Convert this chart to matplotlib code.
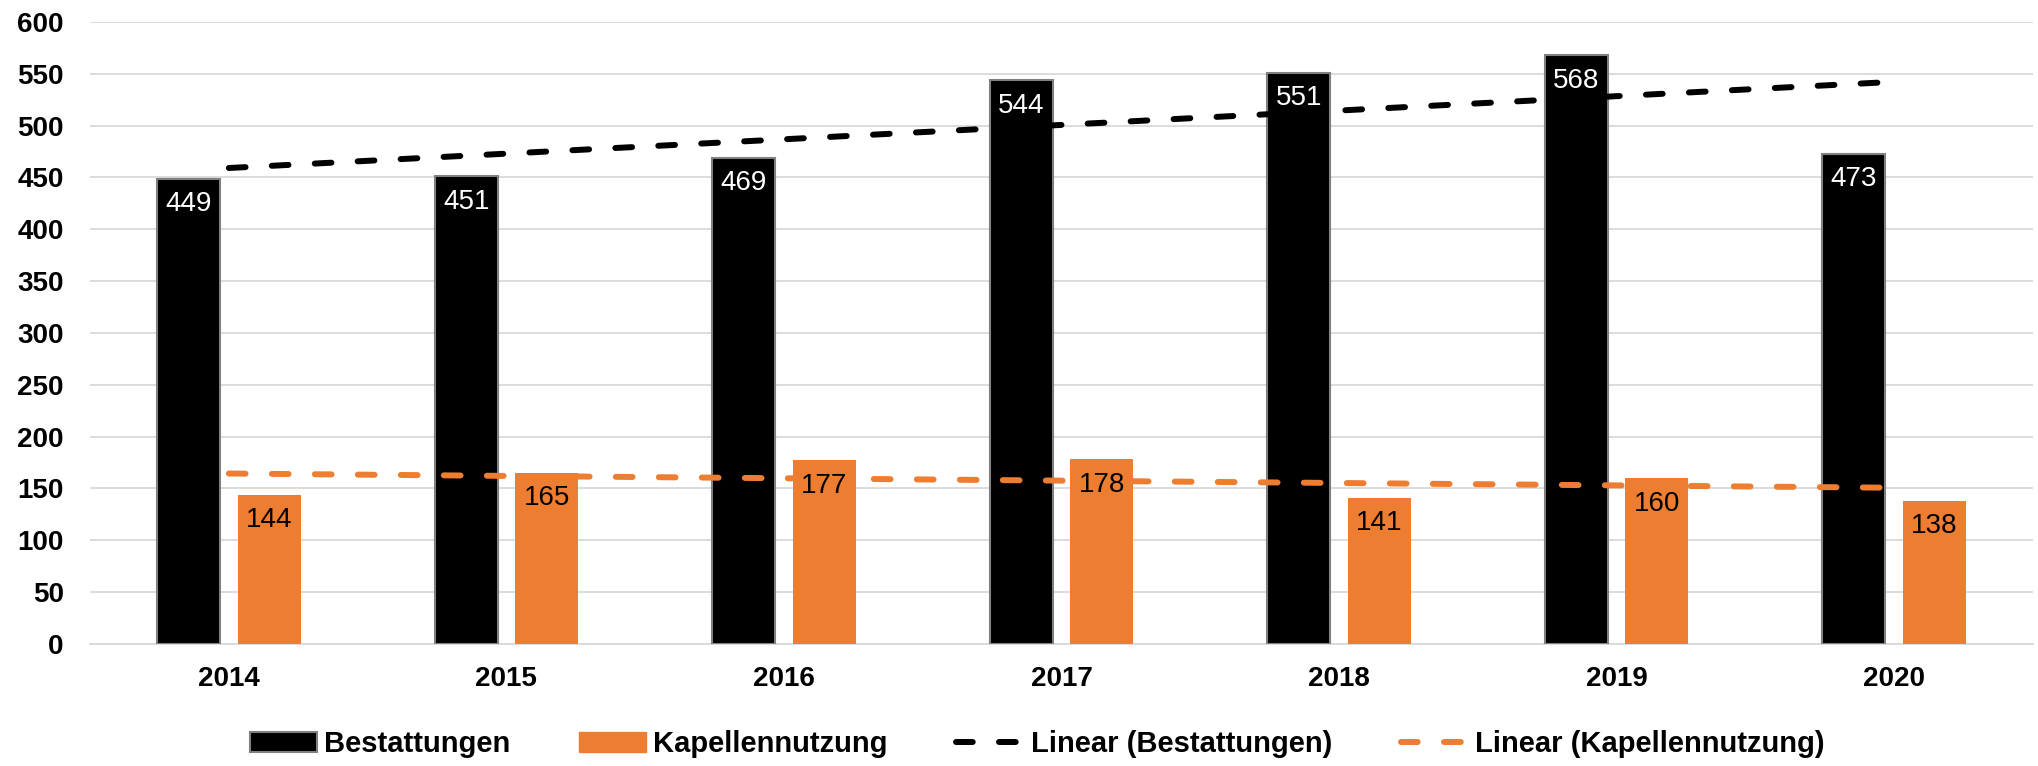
import matplotlib.pyplot as plt
import numpy as np
from matplotlib.lines import Line2D
from matplotlib.patches import Patch

years = ['2014', '2015', '2016', '2017', '2018', '2019', '2020']
bestattungen = [449, 451, 469, 544, 551, 568, 473]
kapelle = [144, 165, 177, 178, 141, 160, 138]
yticks = list(range(0, 601, 50))

plt.rcParams['font.family'] = ['Liberation Sans', 'DejaVu Sans']

BLACK = '#000000'
ORANGE = '#ED7D31'
GRID = '#d9d9d9'

fig = plt.figure(figsize=(20.38, 7.66), dpi=100)
ax = fig.add_axes([0.0442, 0.1593, 0.9533, 0.812])

x = np.arange(len(years))
w = 0.227
off = 0.145

b1 = ax.bar(x - off, bestattungen, w, color=BLACK, edgecolor='#808080', linewidth=1.5, zorder=3)
b2 = ax.bar(x + off, kapelle, w, color=ORANGE, edgecolor=ORANGE, linewidth=0, zorder=3)

for rect, v in zip(b1, bestattungen):
    ax.annotate(str(v), (rect.get_x() + rect.get_width() / 2, v), xytext=(0, -9),
                textcoords='offset points', ha='center', va='top', color='white',
                fontsize=20, zorder=5)
for rect, v in zip(b2, kapelle):
    ax.annotate(str(v), (rect.get_x() + rect.get_width() / 2, v), xytext=(0, -9),
                textcoords='offset points', ha='center', va='top', color='black',
                fontsize=20, zorder=5)

# linear trend lines
for vals, col in [(bestattungen, BLACK), (kapelle, ORANGE)]:
    k, d = np.polyfit(x, vals, 1)
    ax.plot(x, k * x + d, color=col, lw=4.3, dashes=(2.8, 4.4),
            dash_capstyle='round', zorder=4)

ax.set_xlim(-0.5, 6.5)
ax.set_ylim(0, 600)
ax.set_yticks(yticks)
ax.set_xticks(x)
ax.set_xticklabels(years)
ax.yaxis.grid(True, color=GRID, linewidth=1.3, zorder=0)
ax.set_axisbelow(True)
for s in ['top', 'right', 'left']:
    ax.spines[s].set_visible(False)
ax.spines['bottom'].set_color(GRID)
ax.spines['bottom'].set_linewidth(1.3)
ax.tick_params(axis='y', length=0, pad=19, labelsize=20)
ax.tick_params(axis='x', length=0, pad=16, labelsize=20)
for lab in ax.get_xticklabels() + ax.get_yticklabels():
    lab.set_fontweight('bold')

handles = [
    Patch(facecolor=BLACK, edgecolor='#808080', linewidth=1.5),
    Patch(facecolor=ORANGE, edgecolor=ORANGE),
    Line2D([], [], color=BLACK, lw=4.3, dashes=(2.8, 4.4), dash_capstyle='round'),
    Line2D([], [], color=ORANGE, lw=4.3, dashes=(2.8, 4.4), dash_capstyle='round'),
]
labels = ['Bestattungen', 'Kapellennutzung', 'Linear (Bestattungen)', 'Linear (Kapellennutzung)']
fig.legend(handles, labels, loc='lower center', bbox_to_anchor=(0.509, -0.024), ncol=4,
           frameon=False, handlelength=2.3, handletextpad=0.25, columnspacing=2.35,
           prop={'weight': 'bold', 'size': 21})

fig.savefig('out.png', dpi=100)
